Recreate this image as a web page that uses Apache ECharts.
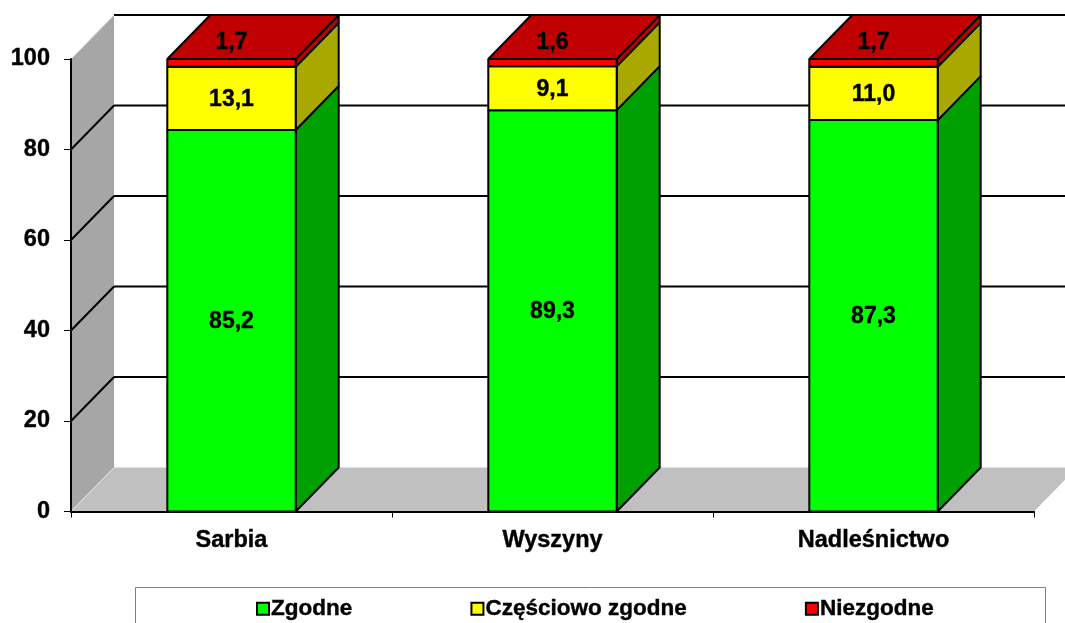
<!DOCTYPE html>
<html><head><meta charset="utf-8">
<style>html,body{margin:0;padding:0;background:#fff;overflow:hidden}#c{width:1065px;height:623px}</style>
<script src="https://cdn.jsdelivr.net/npm/echarts@6/dist/echarts.min.js"></script>
</head><body><div id="c"></div>
<script>
const categories = ['Sarbia', 'Wyszyny', 'Nadleśnictwo'];
const seriesNames = ['Zgodne', 'Częściowo zgodne', 'Niezgodne'];
// segment heights
const zgodneHeights = [84.3, 88.7, 86.5];
const czesciowoHeights = [14.0, 9.7, 11.8];
const niezgodneHeights = [1.7, 1.6, 1.7];
// values as printed on the bars
const zgodneLabels = ['85,2', '89,3', '87,3'];
const czesciowoLabels = ['13,1', '9,1', '11,0'];
const niezgodneLabels = ['1,7', '1,6', '1,7'];
const yTicks = [0, 20, 40, 60, 80, 100];

const DEPTH_X = 43, DEPTH_Y = 44, FONT = '"Liberation Sans", Arial, sans-serif', LW = 2;
const chart = echarts.init(document.getElementById('c'), null, {renderer: 'canvas'});

function poly(points, fill, stroke) {
  return {type: 'polygon', shape: {points},
    style: {fill, stroke: stroke || null, lineWidth: stroke ? LW : 0, lineJoin: 'bevel'}};
}
function segmentSeries(name, heights, labels, below, front, side, isTop) {
  const data = heights.map((h, i) => {
    const base = below.reduce((s, arr) => s + arr[i], 0);
    return [i, base, base + h, labels[i]];
  });
  return {
    type: 'custom', name, data, z: 5, clip: false, silent: true,
    itemStyle: {color: front, borderColor: '#000', borderWidth: 2},
    encode: {x: 0, y: [1, 2]},
    renderItem(params, api) {
      const c = api.value(0);
      const p0 = api.coord([c, api.value(1)]), p1 = api.coord([c, api.value(2)]);
      const w = api.size([1, 0])[0] * 0.4;
      const xl = p0[0] - w / 2, xr = p0[0] + w / 2, yb = p0[1], yt = p1[1];
      const children = [
        poly([[xr, yb], [xr + DEPTH_X, yb - DEPTH_Y], [xr + DEPTH_X, yt - DEPTH_Y], [xr, yt]], side, '#000'),
        poly([[xl, yb], [xr, yb], [xr, yt], [xl, yt]], front, '#000')
      ];
      if (isTop) children.push(poly([[xl, yt], [xl + DEPTH_X, yt - DEPTH_Y], [xr + DEPTH_X, yt - DEPTH_Y], [xr, yt]], side, '#000'));
      children.push({type: 'text', z2: 10, style: {
        text: labels[c], x: p0[0], y: isTop ? yt - 16 : (yb + yt) / 2 + 1,
        align: 'center', verticalAlign: 'middle', fill: '#000', stroke: '#000', lineWidth: 0.4,
        font: 'bold 23px ' + FONT}});
      return {type: 'group', children};
    }
  };
}

chart.setOption({
  animation: false,
  backgroundColor: '#fff',
  grid: {left: 71, right: 31, top: 59, bottom: 111.5},
  xAxis: {type: 'category', data: categories,
    axisLine: {lineStyle: {color: '#000', width: 2}},
    axisTick: {show: true, length: 6, lineStyle: {color: '#000', width: 1}},
    axisLabel: {color: '#000', fontFamily: FONT, fontWeight: 'bold', fontSize: 23.5, margin: 17,
      textBorderColor: '#000', textBorderWidth: 0.4},
    z: 6},
  yAxis: {type: 'value', min: 0, max: 100, interval: 20, splitLine: {show: false},
    axisLine: {show: true, lineStyle: {color: '#000', width: 2}},
    axisTick: {show: true, length: 7, lineStyle: {color: '#000', width: 1}},
    axisLabel: {color: '#000', fontFamily: FONT, fontWeight: 'bold', fontSize: 23.5, margin: 21,
      padding: [5, 0, 0, 0], textBorderColor: '#000', textBorderWidth: 0.4,
      formatter: v => yTicks.includes(v) ? String(v) : ''},
    z: 6},
  legend: {
    left: 251, top: 592, itemWidth: 12, itemHeight: 12, itemGap: 118, selectedMode: false,
    icon: 'rect', data: seriesNames,
    itemStyle: {borderColor: '#000', borderWidth: 2},
    textStyle: {color: '#000', fontFamily: FONT, fontWeight: 'bold', fontSize: 22.5, padding: [0, 0, 0, -3],
      textBorderColor: '#000', textBorderWidth: 0.4}
  },
  graphic: [{type: 'rect', left: 135, top: 587, z: 1, shape: {width: 910, height: 60},
    style: {fill: '#fff', stroke: '#7f7f7f', lineWidth: 1}}],
  series: [
    {
      type: 'custom', name: 'walls', data: [[0]], z: 1, clip: false, silent: true,
      encode: {x: 0, y: 0},
      renderItem(params, api) {
        const cs = params.coordSys;
        const x0 = cs.x, x1 = cs.x + cs.width, y0 = cs.y + cs.height, yT = cs.y;
        return {type: 'group', children: [
          poly([[x0, y0], [x0 + DEPTH_X, y0 - DEPTH_Y], [x1 + DEPTH_X, y0 - DEPTH_Y], [x1, y0]], '#c0c0c0'),
          poly([[x0, yT], [x0 + DEPTH_X, yT - DEPTH_Y], [x0 + DEPTH_X, y0 - DEPTH_Y], [x0, y0]], '#a6a6a6')
        ]};
      }
    },
    {
      type: 'custom', name: 'grid', data: yTicks.map(t => [0, t]), z: 2, clip: false, silent: true,
      encode: {x: 0, y: 1},
      renderItem(params, api) {
        const t = api.value(1), cs = params.coordSys, y = api.coord([0, t])[1], x0 = cs.x;
        const line = (a, b, color, w) => ({type: 'line',
          shape: {x1: a[0], y1: a[1], x2: b[0], y2: b[1]}, style: {stroke: color, lineWidth: w}});
        const a = [x0, y], b = [x0 + DEPTH_X, y - DEPTH_Y], e = [x0 + cs.width + DEPTH_X, y - DEPTH_Y];
        const ch = [];
        const edge = t === 0 || t === 100;
        ch.push(line(a, b, edge ? '#e4e4e4' : '#000', edge ? 1 : 2));
        if (t !== 0) ch.push(line(b, e, '#000', 2));
        return {type: 'group', children: ch};
      }
    },
    segmentSeries(seriesNames[0], zgodneHeights, zgodneLabels, [], '#00ff00', '#00a000', false),
    segmentSeries(seriesNames[1], czesciowoHeights, czesciowoLabels, [zgodneHeights], '#ffff00', '#a8a800', false),
    segmentSeries(seriesNames[2], niezgodneHeights, niezgodneLabels, [zgodneHeights, czesciowoHeights], '#ff0000', '#c00000', true)
  ]
});
</script></body></html>
